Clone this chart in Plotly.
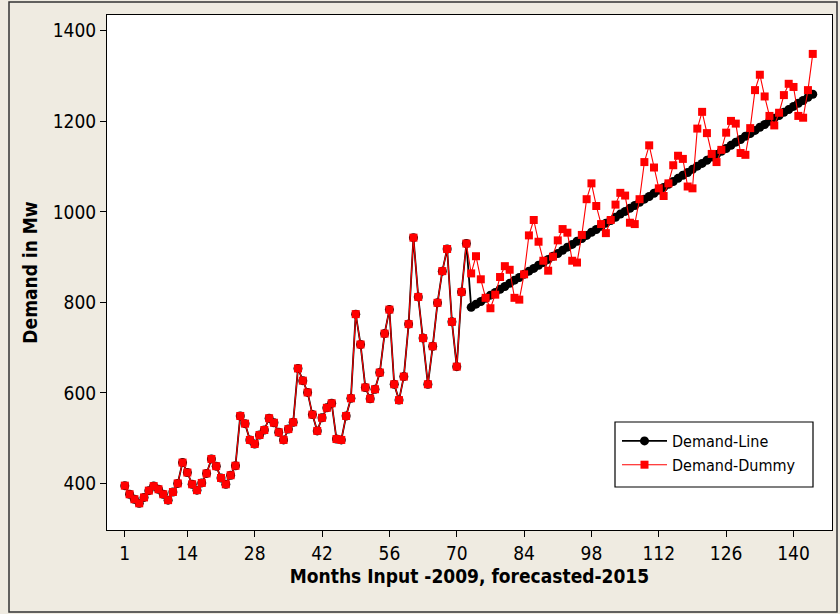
import plotly.graph_objects as go

months = list(range(1, 145))

# Observed monthly demand (months 1-72), shared by both series
actual = [395, 376, 365, 356, 369, 384, 394, 387, 376, 363, 381, 400,
          446, 424, 398, 385, 401, 422, 454, 438, 412, 398, 418, 439,
          549, 532, 496, 487, 507, 518, 544, 534, 513, 496, 520, 535,
          654, 627, 601, 552, 516, 545, 567, 577, 498, 496, 549, 588,
          774, 707, 612, 587, 608, 645, 731, 784, 619, 584, 636, 752,
          943, 812, 721, 619, 703, 799, 869, 918, 757, 658, 823, 930]

# Forecast trend (months 73-144), Demand-Line
trend = [789, 796, 802, 809, 816, 822, 829, 835, 842, 849, 855, 862,
         869, 875, 882, 888, 895, 902, 908, 915, 922, 928, 935, 941,
         948, 955, 961, 968, 975, 981, 988, 995, 1001, 1008, 1014, 1021,
         1028, 1034, 1041, 1048, 1054, 1061, 1067, 1074, 1081, 1087, 1094, 1101,
         1107, 1114, 1121, 1127, 1134, 1140, 1147, 1154, 1160, 1167, 1173, 1180,
         1187, 1193, 1200, 1207, 1213, 1220, 1226, 1233, 1240, 1246, 1253, 1260]

# Forecast with seasonal dummies (months 73-144), Demand-Dummy
dummy = [864, 902, 851, 810, 787, 817, 856, 880, 872, 810, 806, 862,
         948, 982, 934, 892, 870, 901, 937, 962, 954, 892, 888, 949,
         1028, 1063, 1013, 973, 953, 982, 1016, 1042, 1036, 976, 973, 1028,
         1110, 1147, 1098, 1052, 1035, 1063, 1103, 1124, 1117, 1056, 1052, 1184,
         1221, 1174, 1128, 1110, 1137, 1175, 1201, 1195, 1130, 1126, 1185, 1269,
         1303, 1255, 1212, 1191, 1219, 1258, 1283, 1276, 1212, 1208, 1269, 1349]

x_ticks = [1, 14, 28, 42, 56, 70, 84, 98, 112, 126, 140]
y_ticks = [400, 600, 800, 1000, 1200, 1400]

line_series = actual + trend
dummy_series = actual + dummy

FONT = "DejaVu Sans Condensed, DejaVu Sans, sans-serif"

# plot-area pixel geometry
L, R, T, B = 107, 832, 15, 530
PW, PH = R - L, B - T


def px(xp):
    return (xp - L) / PW


def py(yp):
    return (B - yp) / PH


fig = go.Figure()
fig.add_trace(go.Scatter(
    x=months, y=line_series, name="Demand-Line", mode="lines+markers",
    line=dict(color="black", width=1.8),
    marker=dict(symbol="circle", size=9, color="black"),
))
fig.add_trace(go.Scatter(
    x=months, y=dummy_series, name="Demand-Dummy", mode="lines+markers",
    line=dict(color="#ff0000", width=1.1),
    marker=dict(symbol="square", size=8, color="#ff0000"),
))

fig.update_layout(
    width=840, height=614,
    margin=dict(l=L, r=840 - R, t=T, b=614 - B),
    paper_bgcolor="#EFEBE1",
    plot_bgcolor="white",
    font=dict(family=FONT, color="black", size=19),
    showlegend=True,
    legend=dict(
        x=px(617), y=py(424), xanchor="left", yanchor="top",
        bgcolor="rgba(0,0,0,0)", borderwidth=0,
        font=dict(family=FONT, size=16, color="black"),
        itemwidth=45,
    ),
    xaxis=dict(
        range=[-2.7, 148], tickmode="array", tickvals=x_ticks,
        showgrid=False, zeroline=False,
        showline=True, linecolor="black", linewidth=1, mirror=True,
        ticks="outside", ticklen=6, tickcolor="black",
        tickfont=dict(family=FONT, size=19),
        title=dict(text="<b>Months Input -2009, forecasted-2015</b>",
                   font=dict(family=FONT, size=19), standoff=6),
    ),
    yaxis=dict(
        range=[297, 1435], tickmode="array", tickvals=y_ticks,
        showgrid=False, zeroline=False,
        showline=True, linecolor="black", linewidth=1, mirror=True,
        ticks="outside", ticklen=6, tickcolor="black",
        tickfont=dict(family=FONT, size=19),
        title=dict(text="<b>Demand in Mw</b>",
                   font=dict(family=FONT, size=19), standoff=10),
    ),
    shapes=[
        dict(type="rect", xref="paper", yref="paper",
             x0=px(9), x1=px(837), y0=py(612), y1=py(2),
             line=dict(color="#333333", width=1.5), layer="below"),
        dict(type="rect", xref="paper", yref="paper",
             x0=px(615), x1=px(813), y0=py(487), y1=py(422),
             fillcolor="white", line=dict(color="black", width=1.2),
             layer="above"),
    ],
)

fig.write_html("out.html")
